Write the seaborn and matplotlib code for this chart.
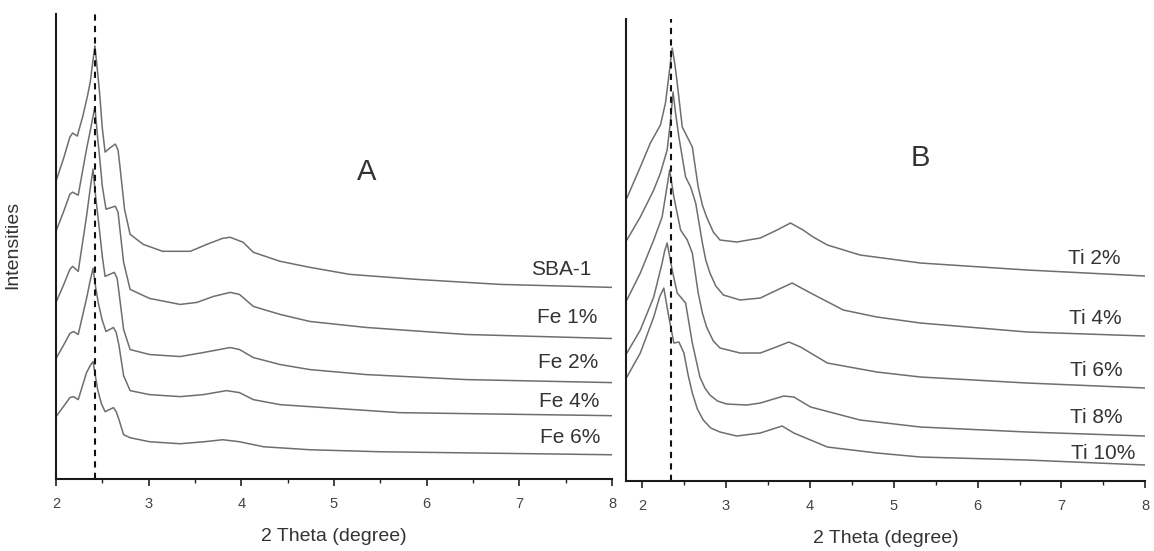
import matplotlib
matplotlib.use("Agg")
import matplotlib.pyplot as plt
from matplotlib.ticker import MultipleLocator
import seaborn as sns
import pandas as pd

# XRD patterns, intensities in arbitrary units
sba1_x = [2.00, 2.08, 2.15, 2.18, 2.23, 2.29, 2.34, 2.37, 2.40, 2.42, 2.45, 2.47, 2.50, 2.53, 2.58,
          2.64, 2.67, 2.69, 2.74, 2.80, 2.94, 3.15, 3.45, 3.63, 3.80, 3.88, 4.02, 4.13, 4.42, 4.74,
          5.17, 5.89, 6.79, 8.00]
sba1_y = [297, 319, 341, 345, 342, 362, 382, 396, 418, 432, 405, 386, 350, 326, 330,
          334, 328, 312, 269, 244, 234, 227, 227, 234, 240, 241, 236, 226, 217, 211,
          204, 199, 194, 191]

fe1_x = [2.00, 2.08, 2.15, 2.18, 2.24, 2.33, 2.38, 2.42, 2.45, 2.47, 2.50, 2.54, 2.64, 2.67,
         2.69, 2.73, 2.80, 3.01, 3.34, 3.52, 3.70, 3.88, 3.98, 4.13, 4.42, 4.74, 5.35, 6.43, 8.00]
fe1_y = [247, 266, 284, 286, 283, 329, 352, 371, 340, 322, 292, 269, 272, 266,
         249, 216, 189, 180, 174, 176, 182, 186, 184, 172, 164, 157, 151, 144, 140]

fe2_x = [2.00, 2.08, 2.15, 2.18, 2.24, 2.33, 2.37, 2.40, 2.43, 2.46, 2.50, 2.53, 2.63, 2.66,
         2.68, 2.73, 2.80, 3.01, 3.34, 3.59, 3.88, 3.98, 4.13, 4.42, 4.74, 5.35, 6.43, 8.00]
fe2_y = [176, 193, 209, 212, 207, 262, 290, 309, 280, 256, 222, 202, 206, 200,
         186, 149, 129, 124, 122, 126, 131, 129, 121, 114, 109, 104, 99, 96]

fe4_x = [2.00, 2.08, 2.15, 2.19, 2.24, 2.33, 2.37, 2.40, 2.43, 2.46, 2.50, 2.54, 2.62, 2.65,
         2.68, 2.73, 2.80, 3.01, 3.34, 3.59, 3.84, 3.98, 4.13, 4.42, 4.74, 5.71, 8.00]
fe4_y = [120, 133, 145, 147, 144, 180, 198, 210, 190, 174, 158, 147, 151, 146,
         133, 103, 88, 84, 82, 84, 88, 86, 79, 74, 72, 66, 63]

fe6_x = [2.00, 2.08, 2.15, 2.19, 2.24, 2.33, 2.37, 2.40, 2.43, 2.45, 2.49, 2.53, 2.62, 2.65,
         2.68, 2.73, 2.80, 3.01, 3.34, 3.60, 3.80, 3.98, 4.24, 4.74, 5.50, 8.00]
fe6_y = [62, 72, 81, 82, 79, 106, 113, 117, 100, 89, 75, 67, 71, 67,
         59, 44, 41, 37, 35, 37, 39, 37, 32, 29, 27, 24]

ti2_x = [1.82, 1.98, 2.10, 2.22, 2.28, 2.32, 2.36, 2.39, 2.42, 2.48, 2.54, 2.60, 2.67, 2.72,
         2.77, 2.85, 2.93, 3.13, 3.41, 3.61, 3.77, 3.92, 4.04, 4.21, 4.60, 5.32, 6.59, 8.00]
ti2_y = [283, 314, 338, 356, 378, 405, 433, 418, 398, 354, 344, 334, 294, 276,
         264, 249, 241, 239, 243, 251, 258, 251, 244, 236, 226, 218, 211, 205]

ti4_x = [1.82, 1.98, 2.14, 2.22, 2.30, 2.34, 2.37, 2.40, 2.44, 2.52, 2.58, 2.64, 2.72, 2.76,
         2.81, 2.88, 2.97, 3.17, 3.41, 3.61, 3.79, 4.01, 4.40, 4.80, 5.32, 6.59, 8.00]
ti4_y = [241, 264, 291, 308, 331, 360, 389, 368, 344, 304, 294, 278, 238, 221,
         208, 195, 186, 181, 183, 191, 198, 188, 171, 164, 158, 149, 145]

ti6_x = [1.82, 1.98, 2.14, 2.24, 2.29, 2.33, 2.38, 2.46, 2.54, 2.60, 2.67, 2.72, 2.77, 2.85,
         2.93, 3.17, 3.41, 3.60, 3.75, 3.89, 4.21, 4.80, 5.32, 6.59, 8.00]
ti6_y = [181, 208, 241, 264, 290, 311, 284, 251, 241, 228, 188, 168, 154, 140,
         133, 128, 128, 134, 139, 134, 118, 109, 104, 98, 93]

ti8_x = [1.82, 1.98, 2.14, 2.24, 2.27, 2.30, 2.36, 2.42, 2.52, 2.60, 2.69, 2.75, 2.81, 2.90,
         3.01, 3.25, 3.41, 3.69, 3.81, 4.01, 4.60, 5.32, 6.59, 8.00]
ti8_y = [128, 151, 184, 218, 230, 238, 211, 188, 178, 138, 104, 93, 86, 80,
         77, 76, 78, 85, 84, 74, 61, 54, 49, 45]

ti10_x = [1.82, 1.98, 2.14, 2.21, 2.26, 2.32, 2.38, 2.44, 2.50, 2.55, 2.60, 2.66, 2.73, 2.82,
          2.93, 3.13, 3.41, 3.67, 3.81, 4.21, 4.80, 5.32, 6.59, 8.00]
ti10_y = [104, 128, 164, 184, 193, 164, 138, 139, 128, 106, 88, 72, 61, 53,
          49, 45, 48, 55, 48, 34, 28, 24, 21, 16]

fe_names = ["SBA-1", "Fe 1%", "Fe 2%", "Fe 4%", "Fe 6%"]
ti_names = ["Ti 2%", "Ti 4%", "Ti 6%", "Ti 8%", "Ti 10%"]
fe_peak = 2.42
ti_peak = 2.35


def to_frame(names, xs, ys):
    parts = []
    for name, x, y in zip(names, xs, ys):
        parts.append(pd.DataFrame({"theta": x, "intensity": y, "sample": name}))
    return pd.concat(parts, ignore_index=True)


df_fe = to_frame(fe_names, [sba1_x, fe1_x, fe2_x, fe4_x, fe6_x],
                 [sba1_y, fe1_y, fe2_y, fe4_y, fe6_y])
df_ti = to_frame(ti_names, [ti2_x, ti4_x, ti6_x, ti8_x, ti10_x],
                 [ti2_y, ti4_y, ti6_y, ti8_y, ti10_y])

sns.set_theme(style="ticks")
plt.rcParams["font.family"] = ["Liberation Sans", "DejaVu Sans"]

fig = plt.figure(figsize=(11.54, 5.51), dpi=100)
ax1 = fig.add_axes([0.0485, 0.131, 0.4818, 0.844])
ax2 = fig.add_axes([0.5425, 0.127, 0.4500, 0.8385])

line_col = "#6e6e6e"
text_col = "#333333"

# label positions: (x, y) of right edge / vertical centre, in data units
fe_label_pos = [(7.78, 209), (7.84, 161), (7.85, 116), (7.86, 77), (7.88, 41)]
ti_label_pos = [(7.70, 223), (7.72, 163), (7.73, 111), (7.73, 64), (7.88, 28)]

panels = [
    (ax1, df_fe, fe_names, fe_label_pos, fe_peak, (2, 8), (0, 464), "A", (5.35, 306)),
    (ax2, df_ti, ti_names, ti_label_pos, ti_peak, (1.81, 8), (0, 462), "B", (5.32, 323)),
]

for ax, df, names, lpos, peak, xlim, ylim, tag, tpos in panels:
    sns.lineplot(data=df, x="theta", y="intensity", hue="sample",
                 palette=[line_col] * len(names), sort=False, estimator=None,
                 linewidth=1.1, legend=False, ax=ax)
    for ln in ax.lines:
        ln.set_solid_joinstyle("round")
    ax.axvline(peak, color="#111111", linestyle=(0, (3, 2.5)), linewidth=1.5)
    for name, (lx, ly) in zip(names, lpos):
        ax.text(lx, ly, name, ha="right", va="center", fontsize=15, color=text_col)
    ax.text(tpos[0], tpos[1], tag, ha="center", va="center", fontsize=21, color=text_col)

    ax.set_xlim(*xlim)
    ax.set_ylim(*ylim)
    ax.xaxis.set_major_locator(MultipleLocator(1))
    ax.xaxis.set_minor_locator(MultipleLocator(0.5))
    ax.tick_params(axis="x", which="major", length=5, width=1.2, labelsize=10.5,
                   colors="#222222", labelcolor="#444444", pad=8)
    ax.tick_params(axis="x", which="minor", length=3, width=1.0, colors="#222222")
    ax.set_yticks([])
    sns.despine(ax=ax, top=True, right=True)
    for side in ["left", "bottom"]:
        ax.spines[side].set_color("#1a1a1a")
        ax.spines[side].set_linewidth(1.5)
    ax.set_xlabel("2 Theta (degree)", fontsize=14, color=text_col, labelpad=12)
    ax.set_ylabel("")

fig.text(0.011, 0.555, "Intensities", rotation=90, ha="center", va="center",
         fontsize=14, color=text_col)

fig.savefig("out.png", dpi=100)
